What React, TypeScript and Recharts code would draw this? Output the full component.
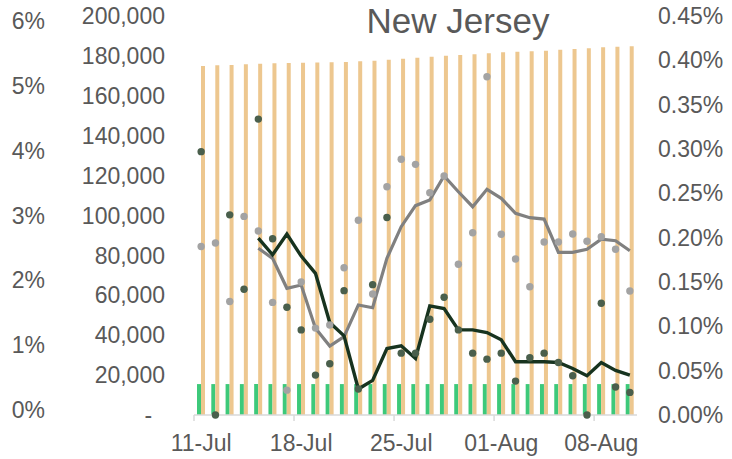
import React from 'react';
import { ComposedChart, Bar, Line, XAxis, YAxis } from 'recharts';

// days shown on the category axis
const dates = [
  '11-Jul', '12-Jul', '13-Jul', '14-Jul', '15-Jul', '16-Jul', '17-Jul', '18-Jul',
  '19-Jul', '20-Jul', '21-Jul', '22-Jul', '23-Jul', '24-Jul', '25-Jul', '26-Jul',
  '27-Jul', '28-Jul', '29-Jul', '30-Jul', '31-Jul', '01-Aug', '02-Aug', '03-Aug',
  '04-Aug', '05-Aug', '06-Aug', '07-Aug', '08-Aug', '09-Aug', '10-Aug',
];

// thin orange bars (left count axis)
const cumulative = [
  174900, 175300, 175400, 175800, 176100, 176300, 176400, 176600, 176700, 176800,
  176900, 177300, 177600, 178100, 178600, 179100, 179600, 180100, 180450, 180800,
  181300, 181800, 182100, 182300, 182600, 183100, 183450, 183800, 184300, 184600,
  184800,
];

// thin green bars (left count axis)
const daily = [
  15500, 15500, 15500, 15500, 15500, 15500, 15500, 15500, 15500, 15500, 15500,
  15500, 15500, 15500, 15500, 15500, 15500, 15500, 15500, 15500, 15500, 15500,
  15500, 15500, 15500, 15500, 15500, 15500, 15500, 15500, 15500,
];

// dark green dots and line (outer left % axis)
const darkDots = [
  3.96, 0, 3.01, 1.89, 4.45, 2.65, 1.62, 1.28, 0.6, 0.77, 1.87, 0.39, 1.96, 2.97,
  0.93, 0.93, 1.44, 1.77, 1.28, 0.93, 0.84, 0.93, 0.51, 0.86, 0.93, 0.79, 0.59, 0,
  1.68, 0.42, 0.34,
];
const darkAvg = [
  null, null, null, null, 2.66, 2.41, 2.72, 2.39, 2.13, 1.39, 1.19, 0.39, 0.52,
  1.0, 1.04, 0.85, 1.64, 1.6, 1.28, 1.28, 1.24, 1.13, 0.8, 0.8, 0.8, 0.79, 0.7,
  0.59, 0.79, 0.67, 0.6,
];

// grey dots and line (right % axis)
const greyDots = [
  0.19, 0.194, 0.128, 0.224, 0.2075, 0.127, 0.028, 0.15, 0.098, 0.1015, 0.166,
  0.2196, 0.1365, 0.2575, 0.2884, 0.2827, 0.2507, 0.2695, 0.17, 0.2056, 0.3815,
  0.2038, 0.1759, 0.1447, 0.1951, 0.1951, 0.2041, 0.1959, 0.2011, 0.1869, 0.1398,
];
const greyAvg = [
  null, null, null, null, 0.188, 0.1767, 0.1429, 0.1466, 0.0978, 0.0778, 0.0883,
  0.1241, 0.121, 0.1767, 0.2124, 0.2361, 0.2425, 0.2695, 0.2518, 0.2349, 0.2545,
  0.2444, 0.2275, 0.2225, 0.221, 0.1835, 0.1835, 0.1869, 0.1982, 0.1966, 0.1853,
];

const countTicks = [0, 20000, 40000, 60000, 80000, 100000, 120000, 140000, 160000, 180000, 200000];
const pctTicks = [0, 1, 2, 3, 4, 5, 6];
const rightTicks = [0, 0.05, 0.1, 0.15, 0.2, 0.25, 0.3, 0.35, 0.4, 0.45];

const data = dates.map((d, i) => ({
  date: d,
  cumulative: cumulative[i],
  daily: daily[i],
  darkDot: darkDots[i],
  darkAvg: darkAvg[i],
  greyDot: greyDots[i],
  greyAvg: greyAvg[i],
}));

const FONT = '"Liberation Sans", Arial, sans-serif';
const TEXT = '#595959';
const FS = 23;

const DateTick = (props: any) => {
  const { x, y, payload } = props;
  const half = payload && payload.offset ? payload.offset : 7.15;
  return (
    <g>
      <line x1={x - half} y1={y} x2={x - half} y2={y + 6} stroke="#D9D9D9" strokeWidth={1.5} />
      <text x={x} y={y + 36} textAnchor="middle" fill={TEXT} fontSize={FS} fontFamily={FONT}>
        {payload.value}
      </text>
    </g>
  );
};

// the outer % scale sits slightly inside the plot height in the original
const PctTick = (props: any) => {
  const { x, y, payload } = props;
  const shift = (payload.value - 3) * (5 / 3);
  return (
    <text x={x} y={y + shift} dy="0.355em" textAnchor="end" fill={TEXT} fontSize={FS} fontFamily={FONT}>
      {`${payload.value}%`}
    </text>
  );
};

const fmtCount = (v: number) => (v === 0 ? '-\u00a0\u00a0' : v.toLocaleString('en-US'));

export default function App() {
  return (
    <div style={{ position: 'absolute', left: 0, top: 0, width: 732, height: 459, background: '#fff' }}>
      <ComposedChart
        width={732}
        height={459}
        data={data}
        margin={{ top: 16, right: 0, left: 0, bottom: 0 }}
        barGap={0}
        style={{ fontFamily: FONT }}
      >
        <XAxis
          dataKey="date"
          interval={6}
          height={44}
          tickSize={0}
          tickMargin={0}
          tickLine={false}
          axisLine={{ stroke: '#D9D9D9', strokeWidth: 1.5 }}
          tick={<DateTick />}
        />
        <YAxis
          yAxisId="count"
          orientation="left"
          width={134}
          domain={[0, 200000]}
          ticks={countTicks}
          tickFormatter={fmtCount}
          axisLine={false}
          tickLine={false}
          tickSize={0}
          tickMargin={29}
          tick={{ fill: TEXT, fontSize: FS, fontFamily: FONT }}
        />
        <YAxis
          yAxisId="pct"
          orientation="left"
          width={60}
          domain={[0, 6]}
          ticks={pctTicks}
          axisLine={false}
          tickLine={false}
          tickSize={0}
          tickMargin={15}
          tick={<PctTick />}
        />
        <YAxis
          yAxisId="right"
          orientation="right"
          width={95}
          domain={[0, 0.45]}
          ticks={rightTicks}
          tickFormatter={(v: number) => `${v.toFixed(2)}%`}
          axisLine={false}
          tickLine={false}
          tickSize={0}
          tickMargin={21}
          tick={{ fill: TEXT, fontSize: FS, fontFamily: FONT }}
        />
        <Bar yAxisId="count" dataKey="daily" fill="#3DC97A" barSize={4} isAnimationActive={false} />
        <Bar yAxisId="count" dataKey="cumulative" fill="#EDC78F" barSize={4} isAnimationActive={false} />
        <Line
          yAxisId="right"
          dataKey="greyDot"
          stroke="none"
          dot={{ r: 3.7, fill: '#A3A3A3', stroke: 'none' }}
          activeDot={false}
          isAnimationActive={false}
        />
        <Line
          yAxisId="pct"
          dataKey="darkDot"
          stroke="none"
          dot={{ r: 3.7, fill: '#4A5F4C', stroke: 'none' }}
          activeDot={false}
          isAnimationActive={false}
        />
        <Line
          yAxisId="right"
          dataKey="greyAvg"
          stroke="#808080"
          strokeWidth={3.2}
          dot={false}
          activeDot={false}
          isAnimationActive={false}
        />
        <Line
          yAxisId="pct"
          dataKey="darkAvg"
          stroke="#17331F"
          strokeWidth={3.4}
          dot={false}
          activeDot={false}
          isAnimationActive={false}
        />
      </ComposedChart>
      <svg width={732} height={459} style={{ position: 'absolute', left: 0, top: 0, pointerEvents: 'none' }}>
        <text x={458} y={33} textAnchor="middle" fill={TEXT} fontSize={35} fontFamily={FONT}>
          New Jersey
        </text>
      </svg>
    </div>
  );
}
